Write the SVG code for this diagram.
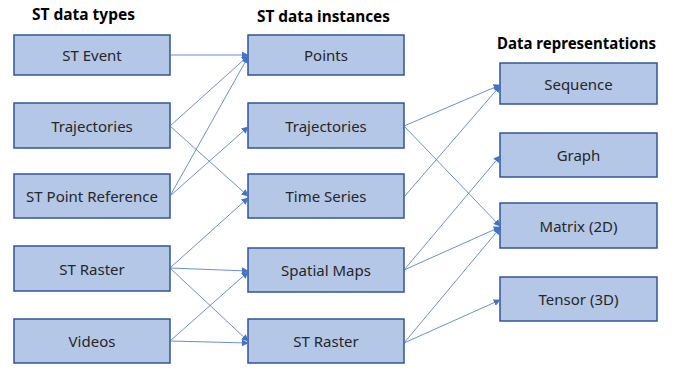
<svg xmlns="http://www.w3.org/2000/svg" width="681" height="368" viewBox="0 0 681 368">
<defs>
<marker id="ah" viewBox="0 0 10 10" refX="9" refY="5" markerWidth="7" markerHeight="7" markerUnits="userSpaceOnUse" orient="auto">
<path d="M0,0 L10,5 L0,10 z" fill="#4472C4"/>
</marker>
<style>
.box{fill:#B4C7E7;stroke:#2F5597;stroke-width:1.5}
.lbl{font-family:"Noto Sans","Open Sans",sans-serif;font-size:15px;fill:#262626;text-anchor:middle;dominant-baseline:central}
.ttl{font-family:"Noto Sans","Open Sans",sans-serif;font-size:15.5px;font-weight:bold;fill:#000}
.cn line{stroke:#4472C4;stroke-width:0.8;marker-end:url(#ah)}
</style>
</defs>
<rect width="681" height="368" fill="#fff"/>
<text class="ttl" x="32" y="20" textLength="103" lengthAdjust="spacingAndGlyphs">ST data types</text>
<text class="ttl" x="257" y="22" textLength="133" lengthAdjust="spacingAndGlyphs">ST data instances</text>
<text class="ttl" x="497" y="49" textLength="159" lengthAdjust="spacingAndGlyphs">Data representations</text>

<g id="n-st-event"><rect class="box" x="14" y="35" width="156" height="40"/><text class="lbl" x="92" y="55">ST Event</text></g>
<g id="n-trajectories-l"><rect class="box" x="14" y="103" width="156" height="45"/><text class="lbl" x="92" y="125.5">Trajectories</text></g>
<g id="n-st-point-ref"><rect class="box" x="14" y="174" width="156" height="44"/><text class="lbl" x="92" y="196">ST Point Reference</text></g>
<g id="n-st-raster-l"><rect class="box" x="14" y="246" width="156" height="45"/><text class="lbl" x="92" y="268.5">ST Raster</text></g>
<g id="n-videos"><rect class="box" x="14" y="319" width="156" height="44"/><text class="lbl" x="92" y="341">Videos</text></g>

<g id="n-points"><rect class="box" x="248" y="35" width="156" height="40"/><text class="lbl" x="326" y="55">Points</text></g>
<g id="n-trajectories-m"><rect class="box" x="248" y="103" width="156" height="45"/><text class="lbl" x="326" y="125.5">Trajectories</text></g>
<g id="n-time-series"><rect class="box" x="248" y="174" width="156" height="44"/><text class="lbl" x="326" y="196">Time Series</text></g>
<g id="n-spatial-maps"><rect class="box" x="248" y="248" width="156" height="44"/><text class="lbl" x="326" y="270">Spatial Maps</text></g>
<g id="n-st-raster-m"><rect class="box" x="248" y="319" width="156" height="44"/><text class="lbl" x="326" y="341">ST Raster</text></g>

<g id="n-sequence"><rect class="box" x="500" y="63" width="157" height="41"/><text class="lbl" x="578.5" y="83.5">Sequence</text></g>
<g id="n-graph"><rect class="box" x="500" y="133" width="157" height="44"/><text class="lbl" x="578.5" y="155">Graph</text></g>
<g id="n-matrix"><rect class="box" x="500" y="203" width="157" height="45"/><text class="lbl" x="578.5" y="225.5">Matrix (2D)</text></g>
<g id="n-tensor"><rect class="box" x="500" y="277" width="157" height="44"/><text class="lbl" x="578.5" y="299">Tensor (3D)</text></g>

<g id="connectors" class="cn">
<line x1="170" y1="55" x2="248" y2="55"/>
<line x1="170" y1="126" x2="248" y2="56"/>
<line x1="170" y1="126" x2="248" y2="196"/>
<line x1="170" y1="196" x2="248" y2="57"/>
<line x1="170" y1="196" x2="248" y2="127"/>
<line x1="170" y1="268" x2="248" y2="198"/>
<line x1="170" y1="268" x2="248" y2="271"/>
<line x1="170" y1="268" x2="248" y2="341"/>
<line x1="170" y1="341" x2="248" y2="272"/>
<line x1="170" y1="341" x2="248" y2="343"/>
<line x1="404" y1="126" x2="500" y2="85"/>
<line x1="404" y1="126" x2="500" y2="226"/>
<line x1="404" y1="197" x2="500" y2="86"/>
<line x1="404" y1="270" x2="500" y2="156"/>
<line x1="404" y1="270" x2="500" y2="227"/>
<line x1="404" y1="343" x2="500" y2="228"/>
<line x1="404" y1="343" x2="500" y2="300"/>
</g>
</svg>
